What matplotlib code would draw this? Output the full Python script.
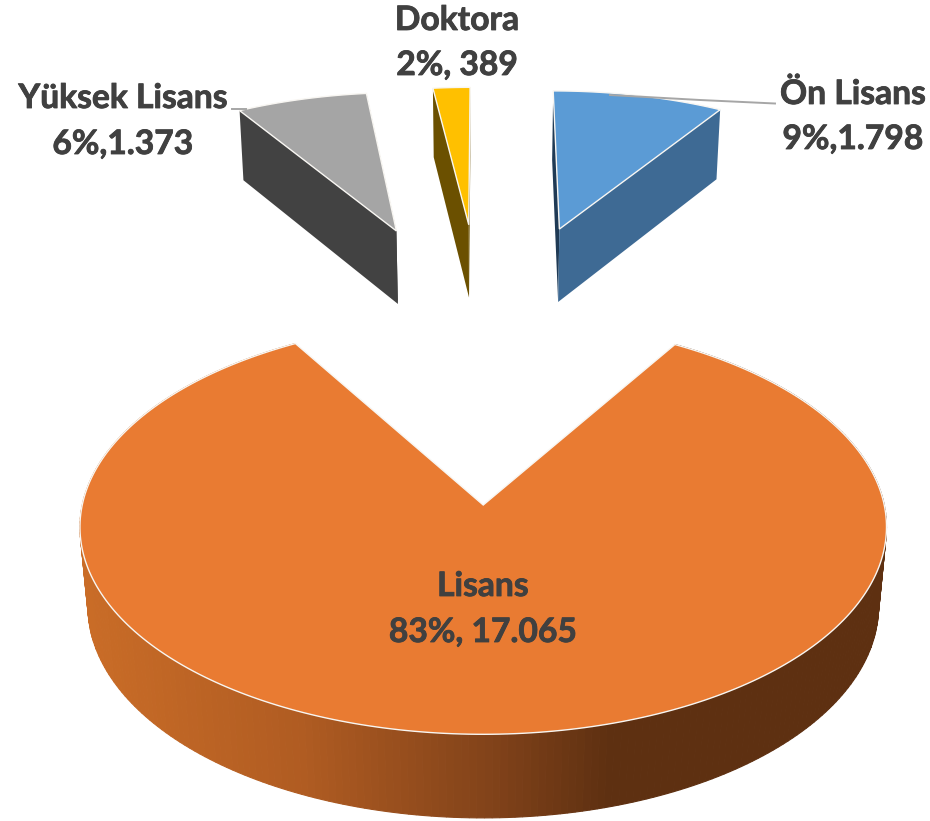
import numpy as np
import matplotlib
matplotlib.use("Agg")
import matplotlib.pyplot as plt
import matplotlib.patheffects as pe
from matplotlib.patches import Polygon

# Data
names = ["Ön Lisans", "Lisans", "Yüksek Lisans", "Doktora"]
counts = [1798, 17065, 1373, 389]
count_labels = ["9%,1.798", "83%, 17.065", "6%,1.373", "2%, 389"]

top_colors = ["#5B9BD5", "#E97B32", "#A5A5A5", "#FFC000"]
wall_colors = ["#3E6A94", "#5E3011", "#424242", "#6B5000"]

# Projection settings (tilted pie seen in perspective)
CX, CY = 485, 505
RX, RY = 401, 205
DEPTH = 81
PERSP_V, PERSP_W = 0.106, 0.02
EXPLODE = 0.8


def project(u, v, w=0.0):
    s = 1 / (1 + PERSP_V * v + PERSP_W * w)
    return CX + RX * u * s, CY + (-RY * v + DEPTH * w) * s


def rim_color(x):
    # side gradient of the big slice, from light orange to dark brown
    stops_x = [85, 300, 500, 610, 900]
    stops = np.array([[0xC9, 0x6C, 0x27], [0xB0, 0x5C, 0x22], [0x7F, 0x41, 0x19],
                      [0x5E, 0x30, 0x11], [0x5E, 0x30, 0x11]]) / 255
    return [np.interp(x, stops_x, stops[:, i]) for i in range(3)]


fig = plt.figure(figsize=(9.3, 8.21), dpi=100)
ax = fig.add_axes([0, 0, 1, 1])
ax.set_xlim(0, 930)
ax.set_ylim(821, 0)
ax.axis("off")

angles = np.cumsum([0] + counts) / sum(counts) * 360

# small slices first, the big one stays in front
for i in [3, 2, 0, 1]:
    a0, a1 = np.radians(angles[i]), np.radians(angles[i + 1])
    mid = (a0 + a1) / 2
    u0 = EXPLODE * np.sin(mid)
    v0 = EXPLODE + EXPLODE * np.cos(mid)
    t = np.linspace(a0, a1, 300)
    us = u0 + np.sin(t)
    vs = v0 + np.cos(t)

    # outer wall
    if i == 1:
        for j in range(len(t) - 1):
            quad = [project(us[j], vs[j]), project(us[j + 1], vs[j + 1]),
                    project(us[j + 1], vs[j + 1], 1), project(us[j], vs[j], 1)]
            x_mid = (quad[0][0] + quad[1][0]) / 2
            c = rim_color(x_mid)
            ax.add_patch(Polygon(quad, closed=True, facecolor=c, edgecolor=c, lw=0.8, zorder=2))
    else:
        # radial walls, the outer one is hidden behind the top face
        for k in [0, -1]:
            wall = [project(u0, v0), project(us[k], vs[k]),
                    project(us[k], vs[k], 1), project(u0, v0, 1)]
            wall_c = "#1F3A55" if (i == 0 and k == 0) else wall_colors[i]
            ax.add_patch(Polygon(wall, closed=True, facecolor=wall_c, edgecolor="none", zorder=2))

    # top face
    pts = [project(u0, v0)] + [project(a, b) for a, b in zip(us, vs)]
    ax.add_patch(Polygon(pts, closed=True, facecolor=top_colors[i], edgecolor="#F8F6F2",
                         lw=1.0, joinstyle="miter", zorder=3))

# Leader lines
ax.plot([610, 700, 775], [95, 100, 103.5], color="#A6A6A6", lw=1.4, zorder=4)
ax.plot([232, 246], [109, 109], color="#A6A6A6", lw=1.4, zorder=4)

# Labels
label_pos = [(853, 94, 139), (483, 586, 632), (123, 98, 144), (457, 20, 65)]
for name, lab, (x, y1, y2) in zip(names, count_labels, label_pos):
    for s, y in [(name, y1), (lab, y2)]:
        txt = ax.text(x, y, s, ha="center", va="center", color="#404040",
                      fontsize=24.2, fontweight="bold", family="Lato", zorder=5)
        txt.set_path_effects([pe.withStroke(linewidth=0.6, foreground="#404040")])

fig.savefig("out.png", dpi=100, facecolor="white")
